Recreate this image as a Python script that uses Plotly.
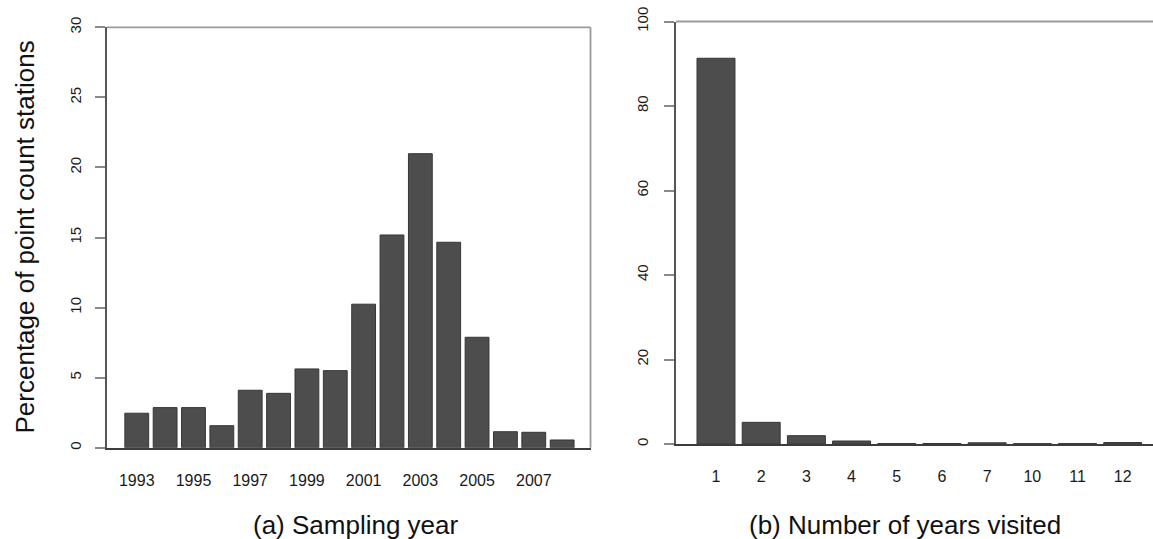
import plotly.graph_objects as go

# Percentage of point count stations by sampling year
years = ["1993", "1994", "1995", "1996", "1997", "1998", "1999", "2000",
         "2001", "2002", "2003", "2004", "2005", "2006", "2007", "2008"]
pct_by_year = [2.46, 2.86, 2.86, 1.57, 4.1, 3.88, 5.62, 5.5,
               10.24, 15.18, 20.98, 14.66, 7.88, 1.14, 1.1, 0.55]
year_tick_labels = ["1993", "1995", "1997", "1999", "2001", "2003", "2005", "2007"]

# Percentage of point count stations by number of years visited
years_visited = ["1", "2", "3", "4", "5", "6", "7", "10", "11", "12"]
pct_by_visits = [91.3, 5.13, 1.97, 0.71, 0.1, 0.12, 0.28, 0.08, 0.1, 0.35]

W, H = 1153, 539
FONT = "Liberation Sans, Arial, Helvetica, sans-serif"
BAR_FILL = "#4d4d4d"
BAR_EDGE = "#363636"


def px_x(x):
    return x / W


def px_y(y):
    return 1 - y / H


# plot areas in pixels (left, top, right, bottom)
A = (106.7, 27.3, 590.5, 447.7)
B = (676.0, 21.5, 1153.0, 444.0)

fig = go.Figure()
fig.add_trace(go.Bar(x=years, y=pct_by_year, xaxis="x", yaxis="y",
                     width=0.84, marker=dict(color=BAR_FILL,
                                             line=dict(color=BAR_EDGE, width=1)),
                     showlegend=False))
fig.add_trace(go.Bar(x=years_visited, y=pct_by_visits, xaxis="x2", yaxis="y2",
                     width=0.84, marker=dict(color=BAR_FILL,
                                             line=dict(color=BAR_EDGE, width=1)),
                     showlegend=False))

x_tick_font = dict(family=FONT, size=16, color="#1a1a1a")
y_tick_font = dict(family=FONT, size=15, color="#1a1a1a")

common_x = dict(type="category", showgrid=False, zeroline=False, ticks="",
                showline=True, linecolor="#3c3c3c", linewidth=1.6,
                tickfont=x_tick_font, automargin=False, fixedrange=True)
common_y = dict(showgrid=False, zeroline=False, ticks="outside", ticklen=10,
                tickcolor="#8a8a8a", tickwidth=1.6, showline=True,
                linecolor="#555555", linewidth=1.6, tickangle=-90,
                tickfont=y_tick_font, automargin=False, fixedrange=True)

fig.update_layout(
    width=W, height=H,
    margin=dict(l=0, r=0, t=0, b=0),
    paper_bgcolor="white", plot_bgcolor="white",
    font=dict(family=FONT),
    xaxis=dict(common_x, domain=[px_x(A[0]), px_x(A[2])], anchor="y",
               range=[-1.06, 16.0], tickmode="array",
               tickvals=year_tick_labels, ticktext=year_tick_labels,
               ticklabelstandoff=17),
    yaxis=dict(common_y, domain=[px_y(A[3]), px_y(A[1])], anchor="x",
               range=[0, 30], tickvals=[0, 5, 10, 15, 20, 25, 30],
               ticklabelstandoff=8),
    xaxis2=dict(common_x, domain=[px_x(B[0]), px_x(B[2])], anchor="y2",
                range=[-0.885, 9.67], ticklabelstandoff=17),
    yaxis2=dict(common_y, domain=[px_y(B[3]), px_y(B[1])], anchor="x2",
                range=[0, 100], tickvals=[0, 20, 40, 60, 80, 100],
                ticklabelstandoff=10),
)

# frame lines along the top and right of the panels
frame = dict(color="#9a9a9a", width=1.8)
fig.add_shape(type="line", xref="paper", yref="paper",
              x0=px_x(A[0]), x1=px_x(A[2]), y0=px_y(A[1]), y1=px_y(A[1]), line=frame)
fig.add_shape(type="line", xref="paper", yref="paper",
              x0=px_x(A[2]), x1=px_x(A[2]), y0=px_y(A[3]), y1=px_y(A[1]), line=frame)
fig.add_shape(type="line", xref="paper", yref="paper",
              x0=px_x(B[0]), x1=px_x(B[2]), y0=px_y(B[1]), y1=px_y(B[1]), line=frame)

# shared axis title and panel captions
fig.add_annotation(text="Percentage of point count stations", xref="paper", yref="paper",
                   x=px_x(24), y=px_y((A[1] + A[3]) / 2), textangle=-90,
                   showarrow=False, xanchor="center", yanchor="middle",
                   font=dict(family=FONT, size=26, color="#111111"))
fig.add_annotation(text="(a) Sampling year", xref="paper", yref="paper",
                   x=px_x(356), y=px_y(525), showarrow=False,
                   xanchor="center", yanchor="middle",
                   font=dict(family=FONT, size=26, color="#111111"))
fig.add_annotation(text="(b) Number of years visited", xref="paper", yref="paper",
                   x=px_x(905), y=px_y(525), showarrow=False,
                   xanchor="center", yanchor="middle",
                   font=dict(family=FONT, size=26, color="#111111"))

fig.write_html("out.html")
